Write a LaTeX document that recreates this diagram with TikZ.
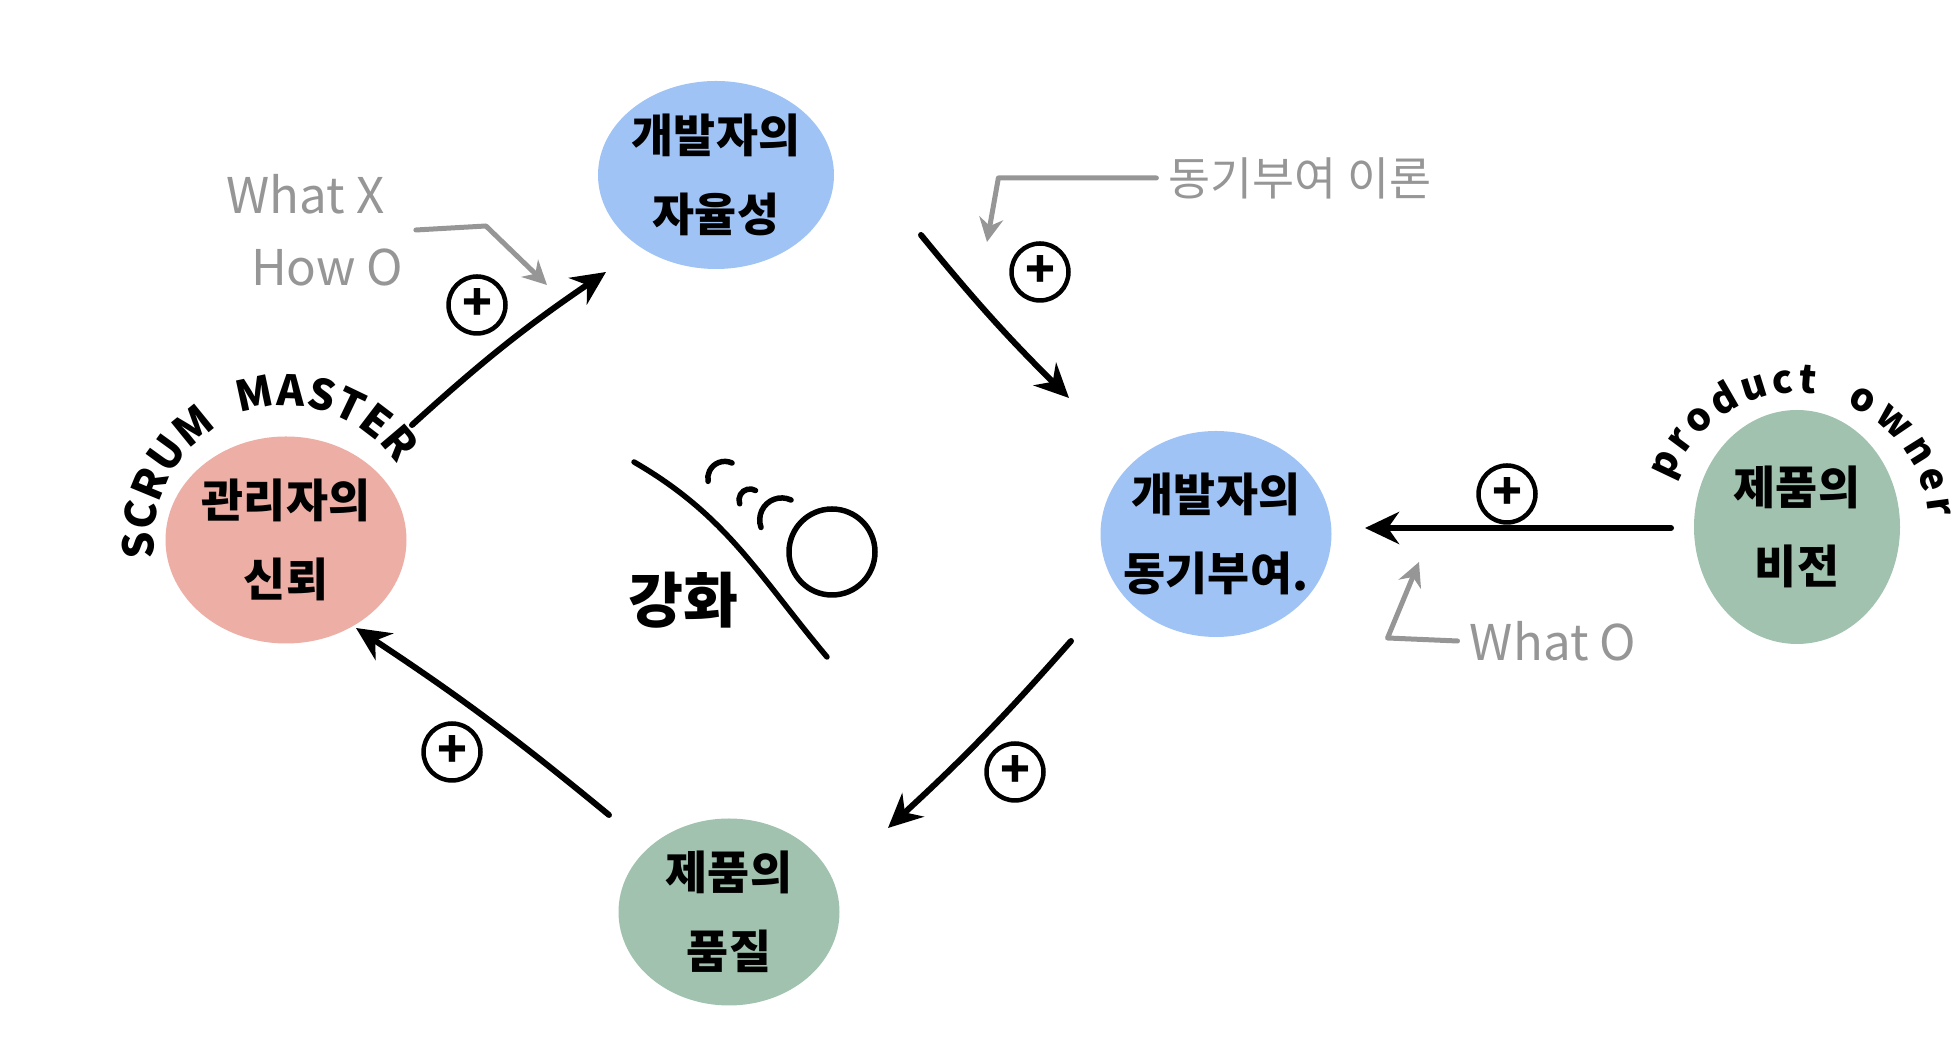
\documentclass[tikz,border=0pt]{standalone}
\usepackage{fontspec}
\setmainfont{Noto Sans CJK KR}
\usepackage{tikz}
\usetikzlibrary{arrows.meta, positioning, shapes.geometric, decorations.text}

\definecolor{autoblue}{HTML}{A0C3F5}
\definecolor{trustred}{HTML}{ECAEA5}
\definecolor{prodgreen}{HTML}{A0C2AE}
\definecolor{notegray}{HTML}{969696}

\begin{document}
\begin{tikzpicture}[
      x=0.1mm, y=-0.1mm,
      blob/.style={ellipse, draw=none, inner sep=0pt},
      blobtext/.style={font=\bfseries\fontsize{13}{22.5}\selectfont, align=center},
      link/.style={line width=0.6mm, line cap=round, -{Stealth[length=3.4mm, width=3.2mm]}},
      signmark/.style={circle, draw, line width=0.45mm, inner sep=0pt, minimum size=5.7mm,
        font=\bfseries\fontsize{14}{14}\selectfont},
      note/.style={text=notegray, font=\fontsize{14}{20.5}\selectfont},
      noteline/.style={draw=notegray, line width=0.5mm, line cap=round, line join=round,
        -{Stealth[length=2.4mm, width=2.4mm]}},
      rolename/.style={decorate, decoration={text along path, text align=fit to path}}
    ]
      \useasboundingbox (0,0) rectangle (1960,1045);

      % the five blobs
      \node[blob, fill=autoblue, minimum width=23.6mm, minimum height=18.8mm,
        label={[blobtext]center:개발자의\\자율성}] (auto) at (716,175) {};
      \node[blob, fill=autoblue, minimum width=23.1mm, minimum height=20.6mm,
        label={[blobtext]center:개발자의\\동기부여.}] (motiv) at (1216,534) {};
      \node[blob, fill=prodgreen, minimum width=22.1mm, minimum height=18.7mm,
        label={[blobtext]center:제품의\\품질}] (qual) at (729,912) {};
      \node[blob, fill=trustred, minimum width=24.1mm, minimum height=20.7mm,
        label={[blobtext]center:관리자의\\신뢰}] (trust) at (286,540) {};
      \node[blob, fill=prodgreen, minimum width=20.6mm, minimum height=23.4mm,
        label={[blobtext]center:제품의\\비전}] (vision) at (1797,527) {};

      % roles written round the blobs
      \path[rolename, decoration={text={|\bfseries\fontsize{12}{12}\selectfont|SCRUM}}]
        ([shift={(-188:132)}]trust.center) arc[start angle=-188, end angle=-122, radius=132];
      \path[rolename, decoration={text={|\bfseries\fontsize{12}{12}\selectfont|MASTER}}]
        ([shift={(-110:134)}]trust.center) arc[start angle=-110, end angle=-34, radius=134];
      \path[rolename, decoration={text={|\bfseries\fontsize{11}{11}\selectfont|product}}]
        ([shift={(-160:134)}]vision.center) arc[start angle=-160, end angle=-82, radius=134];
      \path[rolename, decoration={text={|\bfseries\fontsize{11}{11}\selectfont|owner}}]
        ([shift={(-68:132)}]vision.center) arc[start angle=-68, end angle=-4, radius=132];

      % the loop
      \draw[link] ([shift={(126,-115)}]trust.center) to[bend left=4] ([shift={(-110,97)}]auto.center);
      \draw[link] ([shift={(205,60)}]auto.center) to[bend right=3] ([shift={(-147,-136)}]motiv.center);
      \draw[link] ([shift={(-145,107)}]motiv.center) to[bend left=3] ([shift={(159,-84)}]qual.center);
      \draw[link] ([shift={(-120,-97)}]qual.center) to[bend right=3] ([shift={(70,88)}]trust.center);
      \draw[link] ([shift={(-126,1)}]vision.center) -- ([shift={(149,-6)}]motiv.center);

      \node[signmark] (s1) at (477,305) {+};
      \node[signmark] (s2) at (1040,272) {+};
      \node[signmark] (s3) at (1015,772) {+};
      \node[signmark] (s4) at (452,752) {+};
      \node[signmark] (s5) at (1507,494) {+};

      % reinforcing sign in the middle
      \draw[line width=0.55mm, line cap=round] (634,462) to[out=-30, in=130] (827,657);
      \draw[line width=0.55mm, line cap=round] (732,463) arc[start angle=-65, end angle=-190, radius=17];
      \draw[line width=0.55mm, line cap=round] (755.5,490.5) arc[start angle=-60, end angle=-200, radius=11];
      \draw[line width=0.55mm, line cap=round] (791,500) arc[start angle=-65, end angle=-200, radius=22];
      \node[circle, draw, line width=0.55mm, minimum size=8.6mm] (loopmark) at (832,552) {};
      \node[font=\bfseries\fontsize{17}{17}\selectfont] (boost) at (683,600) {강화};

      % grey notes
      \node[note, align=left] (howhint) at (315,230) {What X\\\hspace*{0.5em}How O};
      \coordinate (howtip) at (547,285);
      \draw[noteline] (howhint.east) -- ++(70,-4) -- (howtip);

      \node[note, font=\fontsize{13}{13}\selectfont] (theory) at (1300,178) {동기부여 이론};
      \coordinate (theorytip) at (987,242);
      \draw[noteline] (theory.west) -- ++(-158,0) -- (theorytip);

      \node[note] (whatnote) at (1553,641) {What O};
      \coordinate (whattip) at (1419,562);
      \draw[noteline] (whatnote.west) -- ++(-70,-3) -- (whattip);
    \end{tikzpicture}
\end{document}
